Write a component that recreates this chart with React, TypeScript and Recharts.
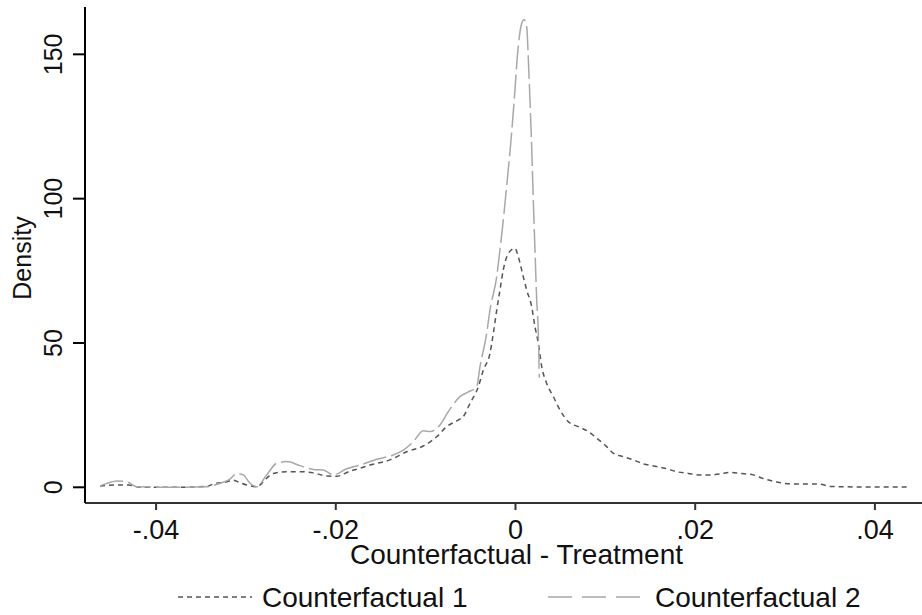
import { LineChart, Line, XAxis, YAxis, Legend } from "recharts"

// kernel density readings, Counterfactual - Treatment
const cf1X = [
  -0.04624, -0.04457, -0.04309, -0.04179, -0.0379, -0.03434, -0.03367, -0.03214, -0.03144, -0.03067,
  -0.02992, -0.0288, -0.02807, -0.02751, -0.02696, -0.02546, -0.02398, -0.0225, -0.02101, -0.0199,
  -0.01842, -0.01731, -0.01619, -0.01397, -0.01211, -0.01026, -0.00877, -0.00766, -0.00637, -0.00581,
  -0.00506, -0.00414, -0.00358, -0.00284, -0.00247, -0.00209, -0.00173, -0.00136, -0.0008, -0.00006,
  0.00031, 0.00087, 0.00125, 0.0018, 0.00217, 0.00254, 0.00292, 0.00347, 0.00421, 0.00495,
  0.00588, 0.00699, 0.0081, 0.00904, 0.01015, 0.01088, 0.012, 0.01311, 0.01422, 0.01534,
  0.01664, 0.01794, 0.01923, 0.02053, 0.02165, 0.02276, 0.02387, 0.02499, 0.02647, 0.02758,
  0.02888, 0.03055, 0.03389, 0.035, 0.03945, 0.0439,
]
const cf1Y = [
  0.45, 0.8, 0.8, 0, 0, 0.3, 1.1, 1.9, 2.5, 1.6,
  0.8, 0.2, 1.9, 3.7, 4.8, 5.4, 5.4, 5.0, 3.9, 3.8,
  5.6, 6.6, 7.7, 9.5, 12.3, 14.3, 17.5, 21, 23.3, 24.5,
  29.1, 34.8, 40.6, 46.4, 53.3, 61.4, 68.3, 75.3, 81, 82.8,
  79.9, 72.9, 68.3, 62.6, 55.6, 49.9, 41.8, 36.0, 31.4, 26.8,
  22.7, 21, 19.3, 17, 14.1, 11.8, 10.6, 9.5, 8.1, 7.4,
  6.6, 5.4, 4.8, 4.3, 4.3, 4.6, 5.2, 4.8, 4.3, 3.0,
  2.0, 1.2, 1.1, 0.3, 0.1, 0.1,
]

const cf2X = [
  -0.04624, -0.04535, -0.04439, -0.04327, -0.04216, -0.03845, -0.03437, -0.03289, -0.03178, -0.03103,
  -0.0303, -0.02955, -0.0288, -0.02769, -0.02658, -0.02546, -0.02398, -0.0225, -0.02139, -0.02028,
  -0.01879, -0.01731, -0.01545, -0.0136, -0.01249, -0.01137, -0.01026, -0.00952, -0.0084, -0.00748,
  -0.00618, -0.00529, -0.00432, -0.00395, -0.00321, -0.00284, -0.00209, -0.00173, -0.00128, -0.00106,
  -0.00053, -0.00006, 0.0002, 0.00069, 0.00095, 0.00125, 0.00142, 0.00161, 0.0018, 0.00198,
  0.00217, 0.00236, 0.00254, 0.00265,
]
const cf2Y = [
  0.5, 1.5, 2.2, 1.9, 0.2, 0, 0.2, 1.4, 2.8, 4.8,
  4.3, 1.4, 0.2, 4.3, 8.3, 8.9, 7.5, 6.2, 6.0, 4.3,
  6.4, 7.7, 9.7, 11.2, 12.9, 15.8, 19.6, 19.3, 21.6, 26.2,
  31.4, 33.0, 34.9, 41.8, 53.3, 61.4, 73.0, 82.2, 94.9, 101.9,
  119.2, 137.6, 149.1, 160.7, 162, 159.5, 149.1, 134.2, 118.0, 99.5,
  82.2, 64.9, 53.4, 38.0,
]

const seriesNames = ["Counterfactual 1", "Counterfactual 2"]
const xTicks = [-0.04, -0.02, 0, 0.02, 0.04]
const yTicks = [0, 50, 100, 150]

const FONT = "'Liberation Sans', Arial, sans-serif"
const FS_V = 25 // rotated texts
const FS_H = 28 // horizontal texts
const INK = "#111"

const cf1Data = cf1X.map((x, i) => ({ x, y: cf1Y[i] }))
const cf2Data = cf2X.map((x, i) => ({ x, y: cf2Y[i] }))

function fmtX(v: number) {
  if (v === 0) return "0"
  const s = Math.abs(v).toFixed(2).replace(/^0/, "")
  return v < 0 ? "-" + s : s
}

function YTick({ x, y, payload }: any) {
  const tx = x - 9
  return (
    <text x={tx} y={y} transform={`rotate(-90, ${tx}, ${y})`} textAnchor="middle"
      fontSize={FS_V} fontFamily={FONT} fill={INK}>
      {payload.value}
    </text>
  )
}

function XTitle({ viewBox }: any) {
  const { x, y, width } = viewBox
  return (
    <text x={x + width / 2 + 13} y={y + 61} textAnchor="middle" fontSize={FS_H} fontFamily={FONT} fill={INK}>
      Counterfactual - Treatment
    </text>
  )
}

function YTitle({ viewBox }: any) {
  const { y, height } = viewBox
  const cx = 31
  const cy = y + height / 2 + 3
  return (
    <text x={cx} y={cy} transform={`rotate(-90, ${cx}, ${cy})`} textAnchor="middle" fontSize={FS_V} fontFamily={FONT} fill={INK}>
      Density
    </text>
  )
}

function LegendBox() {
  return (
    <svg width={922} height={40} style={{ display: "block" }}>
      <line x1={178} x2={252} y1={19} y2={19} stroke="#555" strokeWidth={1.5} strokeDasharray="5 4" />
      <text x={262} y={29} fontSize={FS_H} fontFamily={FONT} fill={INK}>{seriesNames[0]}</text>
      <line x1={548} x2={642} y1={19} y2={19} stroke="#a8a8a8" strokeWidth={1.5} strokeDasharray="24 10" />
      <text x={655} y={29} fontSize={FS_H} fontFamily={FONT} fill={INK}>{seriesNames[1]}</text>
    </svg>
  )
}

export default function App() {
  return (
    <div style={{ position: "absolute", left: 0, top: 0, background: "#fff" }}>
      <LineChart width={922} height={615} margin={{ top: 7, right: 0, bottom: 52, left: 0 }}>
        <XAxis
          type="number"
          dataKey="x"
          domain={[-0.04791, 0.04524]}
          ticks={xTicks}
          tickFormatter={fmtX}
          allowDataOverflow
          height={60}
          tickSize={7}
          tickMargin={10}
          stroke="#333"
          strokeWidth={2}
          tick={{ fontSize: 27, fontFamily: FONT, fill: INK }}
          label={<XTitle />}
        />
        <YAxis
          type="number"
          domain={[-5.44, 166.4]}
          ticks={yTicks}
          allowDataOverflow
          width={85}
          tickSize={12}
          stroke="#000"
          strokeWidth={2}
          tick={<YTick />}
          label={<YTitle />}
        />
        <Legend
          layout="horizontal"
          verticalAlign="middle"
          content={() => <LegendBox />}
          wrapperStyle={{ top: 578, left: 0, width: 922 }}
        />
        <Line
          data={cf1Data}
          dataKey="y"
          name={seriesNames[0]}
          type="monotone"
          stroke="#555"
          strokeWidth={1.5}
          strokeDasharray="5 4"
          dot={false}
          isAnimationActive={false}
        />
        <Line
          data={cf2Data}
          dataKey="y"
          name={seriesNames[1]}
          type="monotone"
          stroke="#a8a8a8"
          strokeWidth={1.5}
          strokeDasharray="24 5"
          dot={false}
          isAnimationActive={false}
        />
      </LineChart>
    </div>
  )
}
